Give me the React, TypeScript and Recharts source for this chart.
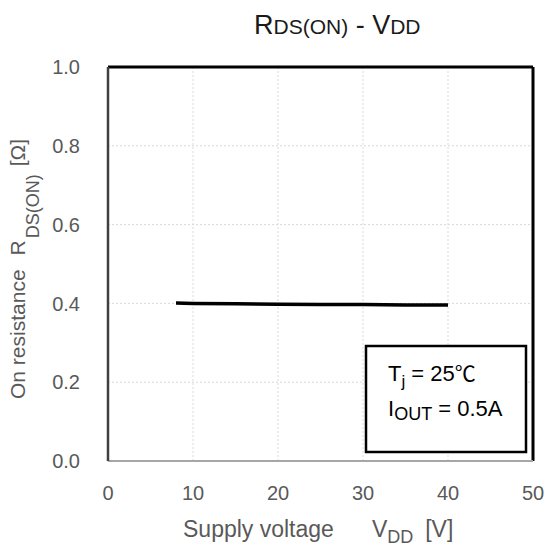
import React from "react";
import { LineChart, Line, XAxis, YAxis, CartesianGrid, ReferenceLine, Customized } from "recharts";

// supply voltage [V] vs on resistance [ohm]
const vdd = [8, 10, 15, 20, 25, 30, 35, 40];
const rdsOn = [0.401, 0.4, 0.399, 0.398, 0.397, 0.397, 0.396, 0.396];
const xTicks = [0, 10, 20, 30, 40, 50];
const yTicks = [0, 0.2, 0.4, 0.6, 0.8, 1.0];

const data = vdd.map((v, i) => ({ vdd: v, r: rdsOn[i] }));

const FONT = "'Liberation Sans', Arial, sans-serif";
const GREY = "#595959";

const Title = () => (
  <text x={254} y={34} fontFamily={FONT} fill="#1a1a1a">
    <tspan fontSize={27}>R</tspan>
    <tspan fontSize={21}>DS(ON)</tspan>
    <tspan fontSize={27}> - V</tspan>
    <tspan fontSize={21}>DD</tspan>
  </text>
);

const YTitle = () => (
  <text
    transform="translate(25, 399) rotate(-90)"
    fontFamily={FONT}
    fill={GREY}
    fontSize={21}
  >
    <tspan>On resistance</tspan>
    <tspan dx={14}>R</tspan>
    <tspan fontSize={18} dy={14} dx={2}>DS(ON)</tspan>
    <tspan dy={-14} dx={8}>[Ω]</tspan>
  </text>
);

const XTitle = () => (
  <text x={183} y={537} fontFamily={FONT} fill={GREY} fontSize={23}>
    <tspan>Supply voltage</tspan>
    <tspan dx={38}>V</tspan>
    <tspan fontSize={18} dy={6}>DD</tspan>
    <tspan dy={-6} dx={12}>[V]</tspan>
  </text>
);

const Note = () => (
  <g>
    <rect x={366} y={346} width={160} height={106} fill="#fff" stroke="#000" strokeWidth={2.5} />
    <text x={388} y={381} fontSize={22} fontFamily={FONT} fill="#000">
      <tspan>T</tspan>
      <tspan fontSize={17} dy={6}>j</tspan>
      <tspan dy={-6}> = 25</tspan>
      <tspan fontFamily="'Noto Sans CJK JP', sans-serif" fontSize={21}>℃</tspan>
    </text>
    <text x={388} y={416} fontSize={22} fontFamily={FONT} fill="#000">
      <tspan>I</tspan>
      <tspan fontSize={18} dy={4}>OUT</tspan>
      <tspan dy={-4}> = 0.5A</tspan>
    </text>
  </g>
);

export default function App() {
  return (
    <div style={{ position: "absolute", left: 0, top: 0, background: "#fff" }}>
      <LineChart
        width={549}
        height={548}
        data={data}
        margin={{ top: 67, right: 16, bottom: 27, left: 48 }}
      >
        <CartesianGrid stroke="#d9d9d9" strokeDasharray="2 2" />
        <XAxis
          dataKey="vdd"
          type="number"
          domain={[0, 50]}
          ticks={xTicks}
          height={60}
          tickLine={false}
          tickSize={0}
          tickMargin={25}
          axisLine={{ stroke: "#a6a6a6", strokeWidth: 2 }}
          tick={{ fill: GREY, fontSize: 20, fontFamily: FONT }}
        />
        <YAxis
          type="number"
          domain={[0, 1]}
          ticks={yTicks}
          width={60}
          tickLine={false}
          tickSize={0}
          tickMargin={28}
          tickFormatter={(v: number) => v.toFixed(1)}
          axisLine={{ stroke: "#404040", strokeWidth: 2.5 }}
          tick={{ fill: GREY, fontSize: 20, fontFamily: FONT }}
        />
        <ReferenceLine y={1} stroke="#000" strokeWidth={3} ifOverflow="visible" />
        <ReferenceLine x={50} stroke="#000" strokeWidth={3} ifOverflow="visible" />
        <Line
          dataKey="r"
          stroke="#000"
          strokeWidth={3.5}
          dot={false}
          isAnimationActive={false}
        />
        <Customized component={Title} />
        <Customized component={YTitle} />
        <Customized component={XTitle} />
        <Customized component={Note} />
      </LineChart>
    </div>
  );
}
